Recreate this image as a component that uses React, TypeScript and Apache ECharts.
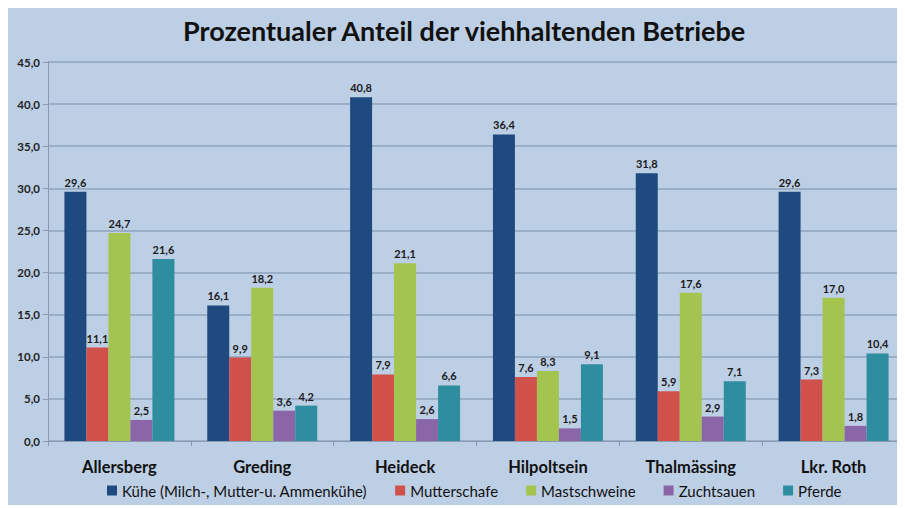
import React, { useEffect, useRef } from "react";
import * as echarts from "echarts";

const categories = ["Allersberg", "Greding", "Heideck", "Hilpoltsein", "Thalmässing", "Lkr. Roth"];
const seriesNames = ["Kühe (Milch-, Mutter-u. Ammenkühe)", "Mutterschafe", "Mastschweine", "Zuchtsauen", "Pferde"];
const kuehe = [29.6, 16.1, 40.8, 36.4, 31.8, 29.6];
const mutterschafe = [11.1, 9.9, 7.9, 7.6, 5.9, 7.3];
const mastschweine = [24.7, 18.2, 21.1, 8.3, 17.6, 17.0];
const zuchtsauen = [2.5, 3.6, 2.6, 1.5, 2.9, 1.8];
const pferde = [21.6, 4.2, 6.6, 9.1, 7.1, 10.4];
const colors = ["#1f4a7f", "#d0504a", "#a3c54f", "#8a66a8", "#2e8ea0"];

const fmt = (v: number) => v.toFixed(1).replace(".", ",");
const FONT = "Lato";

export default function App() {
  const ref = useRef<HTMLDivElement>(null);
  useEffect(() => {
    if (!ref.current) return;
    const chart = echarts.init(ref.current, null, { renderer: "svg" });
    const data = [kuehe, mutterschafe, mastschweine, zuchtsauen, pferde];
    chart.setOption({
      animation: false,
      backgroundColor: "#bdcfe5",
      textStyle: { fontFamily: FONT },
      title: {
        text: "Prozentualer Anteil der viehhaltenden Betriebe",
        left: 170,
        top: 4,
        textStyle: { fontFamily: FONT, fontSize: 27, fontWeight: "bold", color: "#111" },
      },
      legend: {
        bottom: 2,
        left: 94,
        itemWidth: 10,
        itemHeight: 10,
        itemGap: 28,
        icon: "rect",
        textStyle: { fontFamily: FONT, fontSize: 15, color: "#111" },
        data: seriesNames,
      },
      grid: { left: 40, right: 0, top: 54, height: 379 },
      xAxis: {
        type: "category",
        data: categories,
        axisLine: { lineStyle: { color: "#8a9ab0" } },
        axisTick: { show: true, length: 5, lineStyle: { color: "#8a9ab0" } },
        axisLabel: { fontFamily: FONT, fontSize: 16.5, fontWeight: "bold", color: "#111", margin: 17 },
      },
      yAxis: {
        type: "value",
        min: 0,
        max: 45,
        interval: 5,
        axisLine: { show: true, lineStyle: { color: "#8a9ab0" } },
        axisTick: { show: true, length: 5, lineStyle: { color: "#8a9ab0" } },
        splitLine: { lineStyle: { color: "#8fa3bd", width: 1.5 } },
        axisLabel: {
          fontFamily: FONT,
          fontSize: 11.5,
          fontWeight: "bold",
          color: "#222",
          margin: 8,
          formatter: (v: number) => fmt(v),
        },
      },
      series: seriesNames.map((name, i) => ({
        name,
        type: "bar",
        data: data[i],
        barGap: "0%",
        barCategoryGap: "23%",
        itemStyle: { color: colors[i] },
        label: {
          show: true,
          position: "top",
          distance: 4,
          fontFamily: FONT,
          fontSize: 11,
          fontWeight: "bold",
          color: "#1a1a1a",
          formatter: (p: any) => fmt(p.value),
        },
      })),
    });
    return () => chart.dispose();
  }, []);
  return <div ref={ref} style={{ width: 897, height: 497 }} />;
}
